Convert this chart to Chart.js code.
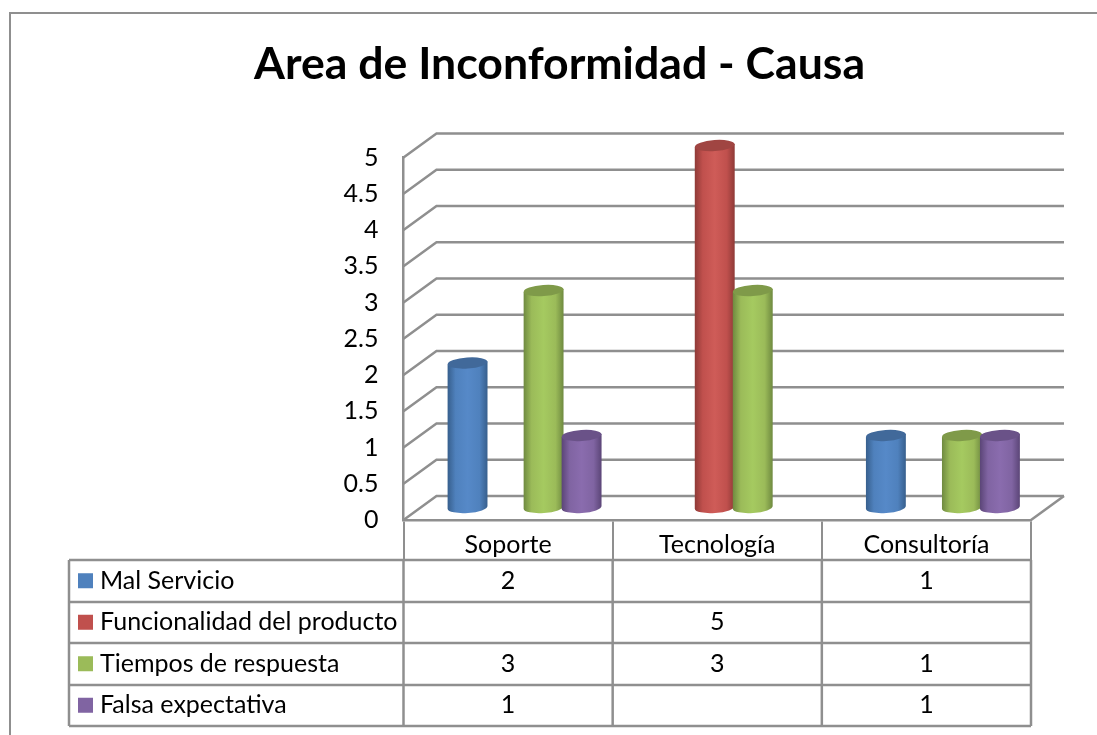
<!DOCTYPE html>
<html>
<head>
<meta charset="utf-8">
<title>Area de Inconformidad - Causa</title>
<script src="https://cdn.jsdelivr.net/npm/chart.js@4/dist/chart.umd.min.js"></script>
<style>
    html, body { margin: 0; padding: 0; background: #fff; overflow: hidden; }
    #chart { display: block; }
</style>
</head>
<body>
<canvas id="chart" width="1097" height="735"></canvas>
<script>
// Chart data
const chartTitle = 'Area de Inconformidad - Causa';
const categories = ['Soporte', 'Tecnología', 'Consultoría'];
const seriesNames = ['Mal Servicio', 'Funcionalidad del producto', 'Tiempos de respuesta', 'Falsa expectativa'];
const malServicio = [2, null, 1];
const funcionalidad = [null, 5, null];
const tiemposRespuesta = [3, 3, 1];
const falsaExpectativa = [1, null, 1];
const allSeries = [malServicio, funcionalidad, tiemposRespuesta, falsaExpectativa];

// Colours: base (legend), light (cylinder middle), dark (cylinder edge), cap
const baseColors = ['#4f81bd', '#c0504d', '#9bbb59', '#8064a2'];
const lightColors = ['#5689c8', '#cf5c58', '#a5ca60', '#8a6cae'];
const darkColors = ['#375f8d', '#8f3a37', '#6f8a40', '#5b4577'];
const capColors = ['#41699a', '#a04542', '#7f9a49', '#6a5288'];

const gridColor = '#8f8f8f';
const fontName = 'Lato, sans-serif';
const labelFont = '25px ' + fontName;

// 3D depth of the chart box
const depthX = 33;
const depthY = -24;

function drawWalls(chart) {
    const ctx = chart.ctx;
    const yScale = chart.scales.y;
    const area = chart.chartArea;

    ctx.save();
    ctx.strokeStyle = gridColor;
    ctx.lineWidth = 2.5;
    yScale.ticks.forEach(tick => {
        const y = yScale.getPixelForValue(tick.value);
        ctx.beginPath();
        ctx.moveTo(area.left, y);
        ctx.lineTo(area.left + depthX, y + depthY);
        ctx.lineTo(area.right + depthX, y + depthY);
        ctx.stroke();
    });
    // right side of the floor
    ctx.beginPath();
    ctx.moveTo(area.right, area.bottom);
    ctx.lineTo(area.right + depthX, area.bottom + depthY);
    ctx.stroke();
    ctx.restore();
}

function drawCylinder(ctx, bar, index) {
    // bars stand in the middle of the floor depth
    const cx = bar.x + depthX / 2;
    const top = bar.y + depthY / 2;
    const base = bar.base + depthY / 2;
    const rx = bar.width / 2;
    const ry = 5.5;
    const rot = -0.07;
    const lift = rx * Math.sin(rot);

    const grad = ctx.createLinearGradient(cx - rx, 0, cx + rx, 0);
    grad.addColorStop(0, darkColors[index]);
    grad.addColorStop(0.2, baseColors[index]);
    grad.addColorStop(0.5, lightColors[index]);
    grad.addColorStop(0.8, baseColors[index]);
    grad.addColorStop(1, darkColors[index]);

    ctx.fillStyle = grad;
    ctx.beginPath();
    ctx.moveTo(cx - rx, top - lift);
    ctx.lineTo(cx - rx, base - lift);
    ctx.ellipse(cx, base, rx, ry, rot, Math.PI, 0, true);
    ctx.lineTo(cx + rx, top + lift);
    ctx.closePath();
    ctx.fill();

    ctx.fillStyle = capColors[index];
    ctx.beginPath();
    ctx.ellipse(cx, top, rx, ry, rot, 0, Math.PI * 2);
    ctx.fill();
}

function drawDataTable(chart) {
    const ctx = chart.ctx;
    const xScale = chart.scales.x;
    const tableLeft = 69;
    const tableRight = chart.chartArea.right;
    const divideX = chart.chartArea.left;
    const tableTop = 560;
    const rowHeight = 41.5;

    ctx.save();
    ctx.strokeStyle = gridColor;
    ctx.lineWidth = 2.5;

    // row lines
    for (let r = 0; r <= seriesNames.length; r++) {
        const y = Math.round(tableTop + r * rowHeight);
        ctx.beginPath();
        ctx.moveTo(tableLeft, y);
        ctx.lineTo(tableRight, y);
        ctx.stroke();
    }
    // column lines
    const tableBottom = Math.round(tableTop + seriesNames.length * rowHeight);
    const columnLines = [tableLeft, divideX];
    categories.forEach((c, i) => {
        columnLines.push(xScale.getPixelForValue(i) + (xScale.getPixelForValue(1) - xScale.getPixelForValue(0)) / 2);
    });
    columnLines.forEach(x => {
        ctx.beginPath();
        ctx.moveTo(x, tableTop);
        ctx.lineTo(x, tableBottom);
        ctx.stroke();
    });

    ctx.font = labelFont;
    ctx.textBaseline = 'middle';
    seriesNames.forEach((name, r) => {
        const midY = tableTop + (r + 0.5) * rowHeight;
        ctx.fillStyle = baseColors[r];
        ctx.fillRect(78, midY - 7.5, 15, 15);

        ctx.fillStyle = '#000';
        ctx.textAlign = 'left';
        ctx.fillText(name, 100, midY);

        ctx.textAlign = 'center';
        allSeries[r].forEach((value, c) => {
            if (value !== null) {
                ctx.fillText(String(value), xScale.getPixelForValue(c), midY);
            }
        });
    });
    ctx.restore();
}

function drawFrame(chart) {
    const ctx = chart.ctx;
    ctx.save();
    ctx.strokeStyle = gridColor;
    ctx.lineWidth = 2;
    ctx.beginPath();
    ctx.moveTo(10, 735);
    ctx.lineTo(10, 13);
    ctx.lineTo(1097, 13);
    ctx.stroke();
    ctx.restore();
}

const cylinderPlugin = {
    id: 'cylinders',
    afterLayout(chart) {
        // title is centred on the frame, not on the padded chart box
        chart.titleBlock.left = 22;
        chart.titleBlock.right = 1097;
    },
    beforeDatasetsDraw(chart) {
        drawWalls(chart);
        // later series sit on top of earlier ones
        chart.data.datasets.forEach((ds, i) => {
            chart.getDatasetMeta(i).data.forEach((bar, j) => {
                if (ds.data[j] !== null) {
                    drawCylinder(chart.ctx, bar, i);
                }
            });
        });
    },
    beforeDatasetDraw() {
        return false;
    },
    afterDraw(chart) {
        drawDataTable(chart);
        drawFrame(chart);
    }
};

new Chart(document.getElementById('chart').getContext('2d'), {
    type: 'bar',
    data: {
        labels: categories,
        datasets: seriesNames.map((name, i) => ({
            label: name,
            data: allSeries[i],
            backgroundColor: baseColors[i],
            categoryPercentage: 0.727,
            barPercentage: 1.05
        }))
    },
    options: {
        responsive: false,
        animation: false,
        layout: { padding: { left: 23, right: 66, top: 38, bottom: 0 } },
        plugins: {
            legend: { display: false },
            tooltip: { enabled: false },
            title: {
                display: true,
                text: chartTitle,
                color: '#000',
                font: { family: fontName, size: 44.6, weight: 'bold' },
                padding: { top: 0, bottom: 66 }
            }
        },
        scales: {
            x: {
                grid: {
                    display: true,
                    offset: true,
                    drawOnChartArea: false,
                    drawTicks: true,
                    tickLength: 40,
                    color: gridColor,
                    lineWidth: 2
                },
                border: { color: gridColor, width: 2.5 },
                ticks: {
                    color: '#000',
                    font: { family: fontName, size: 25 },
                    padding: -30,
                    maxRotation: 0
                },
                afterFit(scale) { scale.height = 215; }
            },
            y: {
                min: 0,
                max: 5,
                grid: { drawOnChartArea: false, drawTicks: false },
                border: { color: gridColor, width: 2.5 },
                ticks: {
                    stepSize: 0.5,
                    color: '#000',
                    padding: 25,
                    font: { family: fontName, size: 25 },
                    callback: value => String(value)
                },
                afterFit(scale) { scale.width = 380.5; }
            }
        }
    },
    plugins: [cylinderPlugin]
});
</script>
</body>
</html>
